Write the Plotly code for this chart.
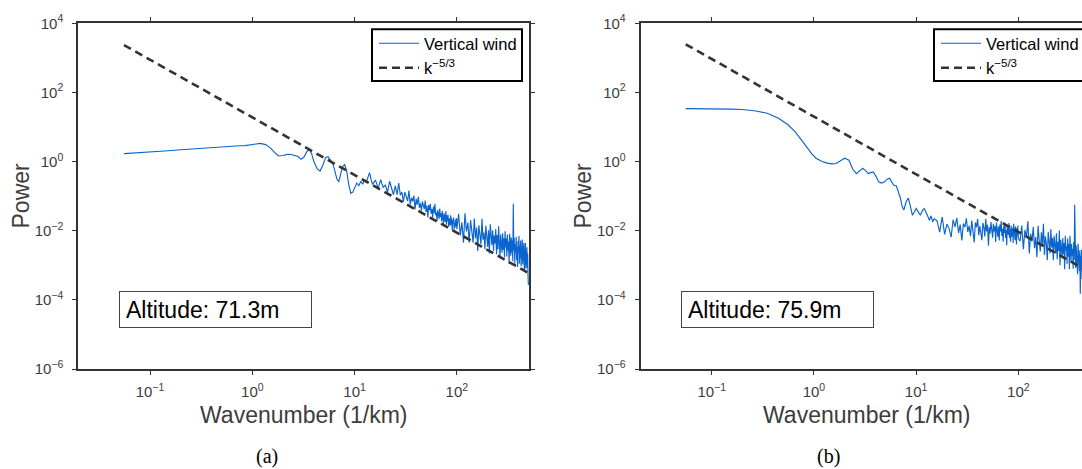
import plotly.graph_objects as go

# ---------------- data ----------------
# wavenumber grid (1/km)
k_low = [0.0556, 0.08, 0.11, 0.15, 0.2, 0.27, 0.35, 0.45, 0.55, 0.65, 0.75, 0.85, 0.95]
k_mid = [1.05, 1.2, 1.35, 1.5, 1.65, 1.8, 2.0, 2.2, 2.4, 2.6,
         2.8, 3.0, 3.2, 3.4, 3.6, 3.8, 4.0, 4.3, 4.6, 4.9,
         5.2, 5.5, 5.8, 6.1, 6.4, 6.7, 7.0, 7.3, 7.6, 8.0,
         8.4, 8.8, 9.2, 9.6, 10.0, 10.5, 11.0, 11.5, 12.0, 12.5,
         13.0, 13.5, 14.0, 14.5, 15.0]
k_band1 = [16, 17, 18, 19, 20, 21, 22, 23, 24, 25,
           26, 27, 28, 29, 30, 31, 32, 33, 34, 35,
           36, 37, 38, 39, 40, 41, 42, 43, 44, 45,
           46, 47, 48, 49, 50, 51, 52, 53, 54, 55,
           56, 57, 58, 59, 60, 61, 62, 63, 64, 65,
           66, 67, 68, 69, 70, 71, 72, 73, 74, 75,
           76, 77, 78, 79, 80, 81, 82, 83, 84, 85,
           86, 87, 88, 89, 90, 91, 92, 93, 94, 95,
           96, 97, 98, 99, 100]
k_band2 = [104, 108, 112, 116, 120, 124, 128, 132, 136, 140,
           144, 148, 152, 156, 160, 164, 168, 172, 176, 180,
           184, 188, 192, 196, 200, 204, 208, 212, 216, 220,
           224, 228, 232, 236, 240, 244, 248, 252, 256, 260,
           264, 268, 272, 276, 280, 284, 288, 292, 296, 300,
           304, 308, 312, 316, 320, 324, 328, 332, 336, 340,
           344, 348, 352, 356, 360, 364, 368, 372, 376, 380,
           384, 388, 392, 396, 400, 404, 408, 412, 416, 420,
           424, 428, 432, 436, 440, 444, 448, 452, 456, 460,
           464, 468, 472, 476, 480, 484, 488, 492, 496, 500]

# panel (a): altitude 71.3 m
pa_low = [1.70, 1.80, 1.92, 2.05, 2.2, 2.35, 2.52, 2.68, 2.76, 2.82, 2.86, 2.9, 3.0]
pa_mid = [3.2, 3.37, 3.1, 2.5, 1.85, 1.45, 1.5, 1.62, 1.6, 1.5,
          1.4, 1.16, 1.35, 1.9, 2.27, 1.7, 1.0, 0.62, 0.53, 0.8,
          1.3, 1.38, 1.1, 0.9, 0.55, 0.32, 0.26, 0.4, 0.7, 0.83,
          0.5, 0.2, 0.12, 0.13, 0.18, 0.24, 0.2, 0.27, 0.22, 0.3,
          0.25, 0.35, 0.48, 0.3, 0.22]
pa_band1 = [0.29, 0.17, 0.30, 0.18, 0.21, 0.13, 0.27, 0.16, 0.11, 0.20,
            0.11, 0.24, 0.106, 0.132, 0.068, 0.13, 0.10, 0.072, 0.146, 0.057,
            0.09, 0.071, 0.104, 0.041, 0.083, 0.057, 0.095, 0.046, 0.062, 0.038,
            0.07, 0.05, 0.042, 0.075, 0.035, 0.053, 0.024, 0.055, 0.039, 0.06,
            0.031, 0.042, 0.024, 0.05, 0.032, 0.06, 0.028, 0.034, 0.019, 0.04,
            0.03, 0.022, 0.044, 0.025, 0.032, 0.019, 0.038, 0.024, 0.015, 0.032,
            0.026, 0.018, 0.037, 0.015, 0.028, 0.019, 0.029, 0.013, 0.023, 0.0195,
            0.014, 0.028, 0.015, 0.023, 0.0105, 0.020, 0.016, 0.024, 0.011, 0.017,
            0.0124, 0.021, 0.0135, 0.023, 0.011]
pa_band2 = [0.0309, 0.0073, 0.0176, 0.0045, 0.032, 0.0095, 0.0172, 0.0045, 0.0203, 0.0097,
            0.0045, 0.0224, 0.006, 0.0124, 0.0026, 0.0144, 0.0085, 0.0041, 0.022, 0.0055,
            0.0089, 0.0029, 0.0139, 0.006, 0.0034, 0.0103, 0.0022, 0.0153, 0.0058, 0.0039,
            0.0103, 0.0026, 0.0072, 0.0043, 0.0111, 0.0021, 0.0075, 0.0029, 0.0134, 0.0042,
            0.0016, 0.0078, 0.0051, 0.0023, 0.0084, 0.0028, 0.006, 0.0017, 0.0096, 0.0033,
            0.0059, 0.0018, 0.0078, 0.0027, 0.0049, 0.0011, 0.0082, 0.0034, 0.0019, 0.0064,
            0.0023, 0.0052, 0.0013, 0.06, 0.0027, 0.0062, 0.0011, 0.0041, 0.0023, 0.0067,
            0.0014, 0.0034, 0.0009, 0.005, 0.0023, 0.007, 0.0011, 0.0037, 0.0016, 0.0052,
            0.00094, 0.0039, 0.0021, 0.0056, 0.00105, 0.0028, 0.0013, 0.0045, 0.00071, 0.0034,
            0.0016, 0.0044, 0.0008, 0.003, 0.0011, 0.0033, 0.00084, 0.0022, 0.00052, 0.00027]

# panel (b): altitude 75.9 m
pb_low = [34, 34, 33.5, 33, 32, 29, 25, 18, 12, 7.5, 4.3, 2.6, 1.7]
pb_mid = [1.25, 1.0, 0.9, 0.86, 0.88, 1.05, 1.25, 1.1, 0.6, 0.45,
          0.55, 0.64, 0.55, 0.45, 0.48, 0.5, 0.4, 0.26, 0.24, 0.26,
          0.31, 0.33, 0.25, 0.2, 0.2, 0.13, 0.09, 0.05, 0.04, 0.07,
          0.088, 0.05, 0.028, 0.035, 0.044, 0.035, 0.028, 0.038, 0.044, 0.034,
          0.024, 0.02, 0.027, 0.018, 0.022]
pb_band1 = [0.0195, 0.0091, 0.025, 0.0078, 0.0156, 0.0117, 0.0065, 0.0208, 0.013, 0.0234,
            0.0086, 0.015, 0.0052, 0.0161, 0.0127, 0.023, 0.0092, 0.0138, 0.0069, 0.0196,
            0.0109, 0.0046, 0.0173, 0.0127, 0.0219, 0.0074, 0.0137, 0.0089, 0.0053, 0.0168,
            0.0126, 0.0068, 0.022, 0.0095, 0.0147, 0.0037, 0.0126, 0.0084, 0.0179, 0.0105,
            0.0063, 0.0158, 0.0095, 0.0137, 0.0047, 0.0171, 0.01, 0.0067, 0.0133, 0.0052,
            0.0152, 0.0095, 0.019, 0.0071, 0.0114, 0.0048, 0.0138, 0.0086, 0.0162, 0.0062,
            0.0105, 0.0038, 0.0143, 0.0119, 0.0076, 0.0167, 0.0062, 0.0114, 0.0048, 0.0141,
            0.0088, 0.0066, 0.0123, 0.0044, 0.0158, 0.0079, 0.0106, 0.0053, 0.0132, 0.0092,
            0.004, 0.0119, 0.007, 0.0141, 0.0062]
pb_band2 = [0.005, 0.0141, 0.0029, 0.0105, 0.0065, 0.0188, 0.0022, 0.0082, 0.0049, 0.0129,
            0.0031, 0.0066, 0.0017, 0.014, 0.0053, 0.0025, 0.009, 0.0038, 0.0159, 0.002,
            0.0069, 0.0042, 0.0014, 0.0093, 0.0049, 0.0022, 0.0111, 0.0033, 0.0061, 0.0014,
            0.0071, 0.0037, 0.0022, 0.0084, 0.0015, 0.0048, 0.0026, 0.0101, 0.001, 0.0055,
            0.0035, 0.0017, 0.0062, 0.0021, 0.0044, 0.00077, 0.0071, 0.0027, 0.0036, 0.0011,
            0.006, 0.0018, 0.0041, 0.00077, 0.0071, 0.0024, 0.0013, 0.0041, 0.0019, 0.003,
            0.0008, 0.0047, 0.0014, 0.056, 0.0031, 0.00084, 0.0038, 0.0016, 0.0025, 0.00055,
            0.0042, 0.0013, 0.0025, 0.00067, 0.0027, 0.00015, 0.0019, 0.00086, 0.0028, 0.0004,
            0.0019, 0.0005, 0.0027, 0.00082, 0.0015, 0.00034, 0.0022, 0.00092, 0.0016, 0.00042,
            0.0025, 0.00065, 0.0013, 0.00028, 0.0016, 0.00074, 0.0012, 0.0003, 0.0012, 0.00025]

# k^(-5/3) reference line end points
k_ref = [0.0556, 500]
p_ref_a = [2355, 6.0e-4]
p_ref_b = [2470, 6.3e-4]

altitudes = ["Altitude: 71.3m", "Altitude: 75.9m"]
panel_labels = ["(a)", "(b)"]
series_names = ["Vertical wind", "k<sup>\u22125/3</sup>"]
x_tickvals = [0.1, 1, 10, 100]
x_ticktext = ["10<sup>\u22121</sup>", "10<sup>0</sup>", "10<sup>1</sup>", "10<sup>2</sup>"]
y_tickvals = [1e-6, 1e-4, 1e-2, 1, 1e2, 1e4]
y_ticktext = ["10<sup>\u22126</sup>", "10<sup>\u22124</sup>", "10<sup>\u22122</sup>",
              "10<sup>0</sup>", "10<sup>2</sup>", "10<sup>4</sup>"]

wavenumber = k_low + k_mid + k_band1 + k_band2
power_a = pa_low + pa_mid + pa_band1 + pa_band2
power_b = pb_low + pb_mid + pb_band1 + pb_band2
if not (len(wavenumber) == len(power_a) == len(power_b)):
    raise ValueError(f"length mismatch {len(wavenumber)} {len(power_a)} {len(power_b)}")

# ---------------- styling ----------------
W, H = 1082, 469
FONT = "Liberation Sans, Arial, Helvetica, sans-serif"
BLUE = "#0b64cf"
AXC = "#333333"
TXT = "#3c3c3c"


def px_x(p):
    return p / W


def px_y(p):
    return 1 - p / H


fig = go.Figure()
panels = [("x", "y", "legend", power_a, p_ref_a), ("x2", "y2", "legend2", power_b, p_ref_b)]
for xa, ya, lg, pw, pref in panels:
    fig.add_trace(go.Scatter(x=wavenumber, y=pw, mode="lines", name=series_names[0],
                             line=dict(color=BLUE, width=1.15), xaxis=xa, yaxis=ya, legend=lg))
    fig.add_trace(go.Scatter(x=k_ref, y=pref, mode="lines", name=series_names[1],
                             line=dict(color=AXC, width=2.6, dash="8px,5px"),
                             xaxis=xa, yaxis=ya, legend=lg))

common = dict(type="log", showgrid=False, zeroline=False, showline=True, linecolor=AXC,
              linewidth=2, ticks="outside", ticklen=4, tickwidth=1.3, tickcolor=AXC,
              tickfont=dict(family=FONT, size=15, color=TXT))
xcommon = dict(common, tickvals=x_tickvals, ticktext=x_ticktext, ticklabelstandoff=4)
ycommon = dict(common, tickvals=y_tickvals, ticktext=y_ticktext, range=[-6, 4],
               domain=[px_y(369), px_y(23.3)], ticklabelstandoff=6)

legend_common = dict(xanchor="left", yanchor="top", bgcolor="rgba(0,0,0,0)",
                     borderwidth=0, font=dict(family=FONT, size=16.5, color="black"),
                     itemwidth=40, tracegroupgap=0, xref="paper", yref="paper")

fig.update_layout(
    width=W, height=H,
    margin=dict(l=0, r=0, t=0, b=0, autoexpand=False),
    paper_bgcolor="white", plot_bgcolor="white",
    showlegend=True,
    xaxis=dict(xcommon, domain=[px_x(78.3), px_x(529.3)], range=[-1.701, 2.708],
               anchor="y", mirror="ticks"),
    yaxis=dict(ycommon, anchor="x", mirror="ticks"),
    xaxis2=dict(xcommon, domain=[px_x(640.7), 1.0], range=[-1.695, 2.623],
                anchor="y2", mirror="ticks"),
    yaxis2=dict(ycommon, anchor="x2", mirror=False),
    legend=dict(legend_common, x=px_x(374), y=px_y(26.0)),
    legend2=dict(legend_common, x=px_x(936), y=px_y(26.0)),
)

# legend frames (white boxes with black border, drawn behind the legend entries)
shapes = []
for x0, x1 in [(372, 522), (934, 1090)]:
    shapes.append(dict(type="rect", xref="paper", yref="paper", layer="above",
                       x0=px_x(x0), x1=px_x(x1), y0=px_y(81), y1=px_y(29.3),
                       fillcolor="white", line=dict(color="black", width=2)))
fig.update_layout(shapes=shapes)

annotations = []
# altitude boxes
for x0, txt in [(119, altitudes[0]), (681, altitudes[1])]:
    annotations.append(dict(text=txt, x=px_x(x0), y=px_y(290.7), xref="paper", yref="paper",
                            xanchor="left", yanchor="top", showarrow=False, align="left",
                            font=dict(family=FONT, size=23, color="black"),
                            bordercolor="#444444", borderwidth=1, borderpad=6,
                            bgcolor="white", width=179, height=23))
# axis titles
for xc in [303.8, 866]:
    annotations.append(dict(text="Wavenumber (1/km)", x=px_x(xc), y=px_y(415), xref="paper",
                            yref="paper", xanchor="center", yanchor="middle", showarrow=False,
                            font=dict(family=FONT, size=23, color=TXT)))
for xc in [20.5, 582.5]:
    annotations.append(dict(text="Power", x=px_x(xc), y=px_y(196), xref="paper", yref="paper",
                            xanchor="center", yanchor="middle", showarrow=False, textangle=-90,
                            font=dict(family=FONT, size=23, color=TXT)))
# panel labels
for xc, lab in [(267, panel_labels[0]), (828, panel_labels[1])]:
    annotations.append(dict(text=lab, x=px_x(xc), y=px_y(456), xref="paper", yref="paper",
                            xanchor="center", yanchor="middle", showarrow=False,
                            font=dict(family="Liberation Serif, DejaVu Serif, serif", size=20,
                                      color="black")))
fig.update_layout(annotations=annotations)

fig.write_html("out.html")
